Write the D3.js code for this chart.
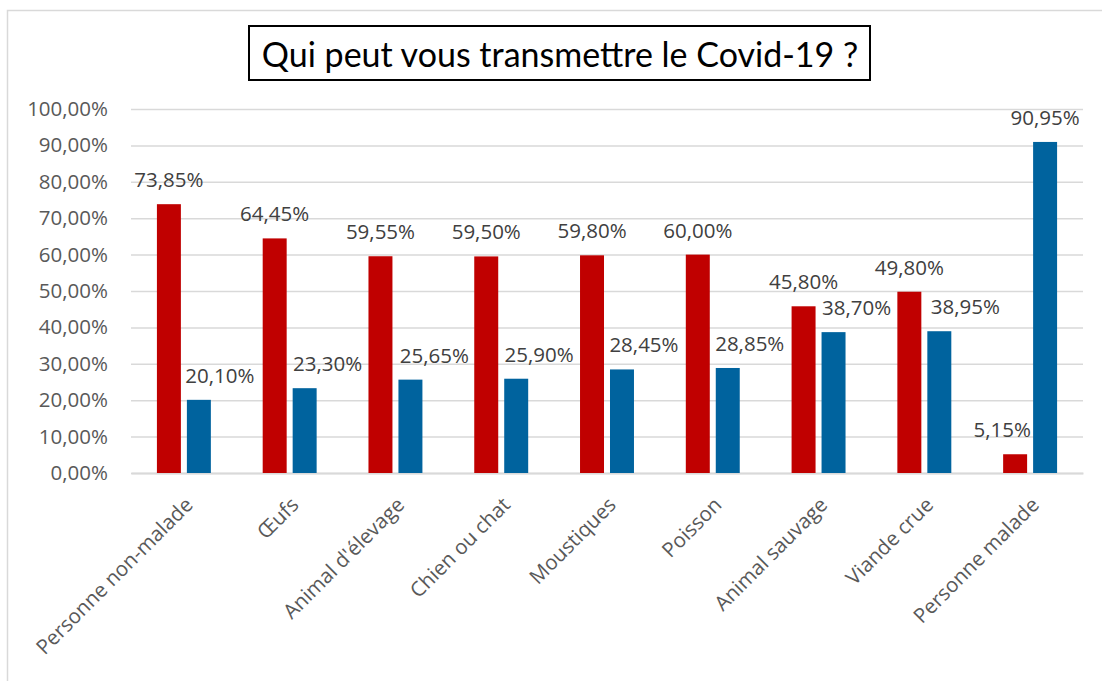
<!DOCTYPE html>
<meta charset="utf-8">
<head>
    <title>Qui peut vous transmettre le Covid-19 ?</title>
    <script src="https://cdn.jsdelivr.net/npm/d3@7"></script>
    <style>
        body { margin: 0; background: #fff; }
        text { font-family: "Open Sans", sans-serif; }
    </style>
</head>
<body>
<div id="chart"></div>
<script>
    // data
    const categories = ["Personne non-malade", "Œufs", "Animal d'élevage", "Chien ou chat",
        "Moustiques", "Poisson", "Animal sauvage", "Viande crue", "Personne malade"];
    const seriesNames = ["oui", "non"];
    const redValues = [73.85, 64.45, 59.55, 59.50, 59.80, 60.00, 45.80, 49.80, 5.15];
    const blueValues = [20.10, 23.30, 25.65, 25.90, 28.45, 28.85, 38.70, 38.95, 90.95];
    const yTicks = [0, 10, 20, 30, 40, 50, 60, 70, 80, 90, 100];
    const title = "Qui peut vous transmettre le Covid-19 ?";

    const width = 1102, height = 681;
    const margin = {top: 109, right: 19, bottom: 208, left: 131};
    const colors = {oui: "#C00000", non: "#00639E"};

    // small hand nudges so labels sit like the original
    const labelNudge = {oui: [0, 0, 0, 0, 0, 0, 0, 0, -13], non: [21, 23, 24, 23, 22, 22, 23, 26, 0]};

    const svg = d3.select("#chart").append("svg")
        .attr("width", width)
        .attr("height", height);

    // outer chart border
    svg.append("rect")
        .attr("x", 7.5).attr("y", 10.5)
        .attr("width", width).attr("height", height)
        .attr("fill", "none")
        .attr("stroke", "#D9D9D9")
        .attr("stroke-width", 1.5);

    const g = svg.append("g")
        .attr("transform", "translate(" + margin.left + "," + margin.top + ")");

    const innerW = width - margin.left - margin.right;
    const innerH = height - margin.top - margin.bottom;

    const x0 = d3.scaleBand().domain(categories).range([0, innerW])
        .paddingInner(0.49).paddingOuter(0.245);
    const x1 = d3.scaleBand().domain(seriesNames).range([0, x0.bandwidth()]).paddingInner(0.2);
    const y = d3.scaleLinear().domain([0, 100]).range([innerH, 0]);

    const fmt = v => d3.format(".2f")(v).replace(".", ",") + "%";

    // gridlines + y labels
    const yAxis = d3.axisLeft(y).tickValues(yTicks).tickSize(-innerW).tickFormat(fmt).tickPadding(23);
    const ya = g.append("g").call(yAxis);
    ya.select(".domain").remove();
    ya.selectAll(".tick line").attr("stroke", "#D9D9D9").attr("stroke-width", 1.5);
    ya.selectAll(".tick text").attr("fill", "#595959").style("font-size", "20.5px");

    // x axis baseline + rotated labels
    const xa = g.append("g").attr("transform", "translate(0," + innerH + ")")
        .call(d3.axisBottom(x0).tickSize(0));
    xa.select(".domain").attr("stroke", "#D9D9D9").attr("stroke-width", 2);
    xa.selectAll(".tick text")
        .attr("fill", "#595959")
        .style("font-size", "20.5px")
        .attr("text-anchor", "end")
        .attr("dy", "0.35em")
        .attr("transform", "translate(3,26) rotate(-45)");

    const rows = categories.map((c, i) => ({cat: c, i: i, oui: redValues[i], non: blueValues[i]}));

    const groups = g.selectAll(".grp").data(rows).enter().append("g")
        .attr("transform", d => "translate(" + x0(d.cat) + ",0)");

    groups.selectAll("rect")
        .data(d => seriesNames.map(s => ({s: s, v: d[s], i: d.i})))
        .enter().append("rect")
        .attr("x", d => x1(d.s))
        .attr("y", d => y(d.v))
        .attr("width", x1.bandwidth())
        .attr("height", d => innerH - y(d.v))
        .attr("fill", d => colors[d.s]);

    groups.selectAll(".val")
        .data(d => seriesNames.map(s => ({s: s, v: d[s], i: d.i})))
        .enter().append("text")
        .attr("class", "val")
        .attr("x", d => x1(d.s) + x1.bandwidth() / 2 + labelNudge[d.s][d.i])
        .attr("y", d => y(d.v) - 17)
        .attr("text-anchor", "middle")
        .attr("fill", "#404040")
        .style("font-size", "20.5px")
        .text(d => fmt(d.v));

    // title with box
    svg.append("rect")
        .attr("x", 249).attr("y", 26)
        .attr("width", 621).attr("height", 54)
        .attr("fill", "#fff")
        .attr("stroke", "#000")
        .attr("stroke-width", 2);
    svg.append("text")
        .attr("x", 560).attr("y", 67)
        .attr("text-anchor", "middle")
        .style("font-family", "Lato, sans-serif")
        .style("font-size", "34px")
        .attr("fill", "#000")
        .text(title);
</script>
</body>
</html>
